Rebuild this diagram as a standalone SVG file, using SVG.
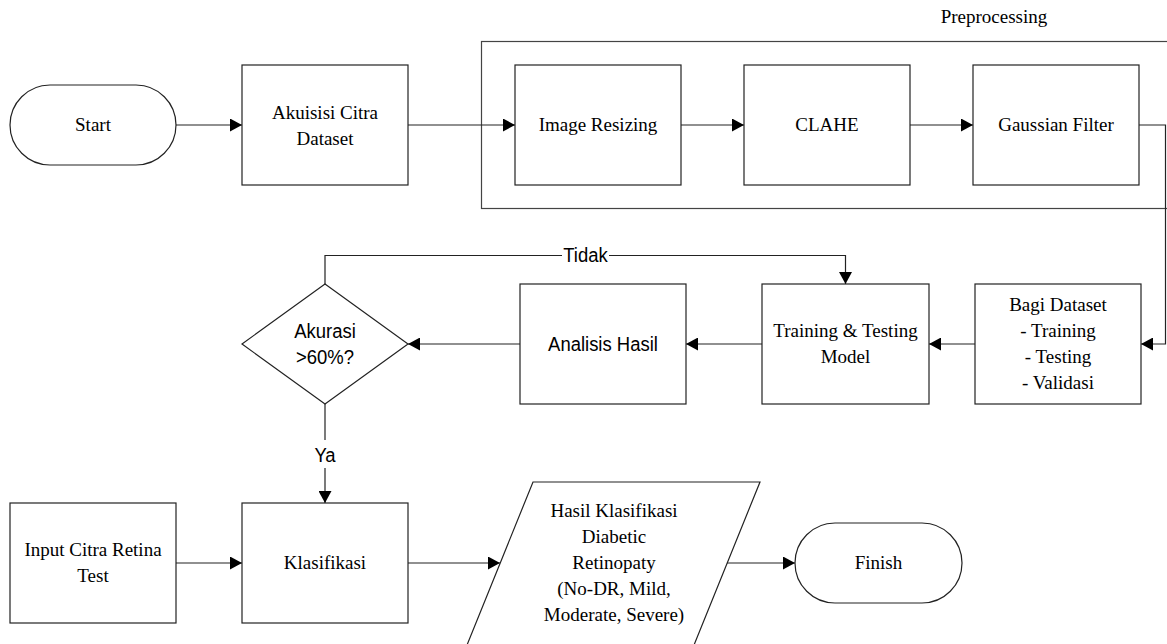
<svg xmlns="http://www.w3.org/2000/svg" width="1167" height="644" viewBox="0 0 1167 644">
  <style>
    .box { fill: #ffffff; stroke: #222222; stroke-width: 1.2; }
    .grp { fill: none; stroke: #444444; stroke-width: 1.2; }
    .con { fill: none; stroke: #222222; stroke-width: 1.2; }
    .s { font-family: "Liberation Serif", "Times New Roman", serif; font-size: 19px; fill: #000000; text-anchor: middle; }
    .a { font-family: "Liberation Sans", Arial, sans-serif; font-size: 21px; fill: #000000; text-anchor: middle; transform-box: fill-box; transform-origin: center; transform: scaleX(0.88); }
    .lbg { fill: #ffffff; stroke: none; }
  </style>
  <defs>
    <marker id="arr" viewBox="0 0 12 13" refX="12" refY="6.5" markerWidth="12" markerHeight="13" orient="auto" markerUnits="userSpaceOnUse">
      <path d="M0,0 L12,6.5 L0,13 z" fill="#000000"/>
    </marker>
  </defs>
  <rect width="1167" height="644" fill="#ffffff"/>

  <g id="preprocessing">
    <rect class="grp" x="481.5" y="41.5" width="700" height="167"/>
    <text class="s" x="994" y="23">Preprocessing</text>
  </g>

  <g id="connectors">
    <path class="con" d="M176,125 H242" marker-end="url(#arr)"/>
    <path class="con" d="M408,125 H515" marker-end="url(#arr)"/>
    <path class="con" d="M681,125 H744" marker-end="url(#arr)"/>
    <path class="con" d="M910,125 H973" marker-end="url(#arr)"/>
    <path class="con" d="M1139,125 H1165.5 V344 H1141" marker-end="url(#arr)"/>
    <path class="con" d="M975,344 H929" marker-end="url(#arr)"/>
    <path class="con" d="M762,344 H686" marker-end="url(#arr)"/>
    <path class="con" d="M520,344 H408" marker-end="url(#arr)"/>
    <path class="con" d="M325,284 V255.5 H845.5 V284" marker-end="url(#arr)"/>
    <path class="con" d="M325,404 V503" marker-end="url(#arr)"/>
    <path class="con" d="M176,563 H242" marker-end="url(#arr)"/>
    <path class="con" d="M408,563 H500" marker-end="url(#arr)"/>
    <path class="con" d="M727,563 H795" marker-end="url(#arr)"/>
    <rect class="lbg" x="562" y="246" width="47" height="19"/>
    <text class="a" x="585.5" y="262.5">Tidak</text>
    <rect class="lbg" x="312" y="440" width="26" height="28"/>
    <text class="a" x="325" y="462.5">Ya</text>
  </g>

  <g id="start">
    <rect class="box" x="10" y="85" width="166" height="80" rx="40" ry="40"/>
    <text class="s" x="93" y="131">Start</text>
  </g>

  <g id="akuisisi">
    <rect class="box" x="242" y="65" width="166" height="120"/>
    <text class="s" x="325" y="119">Akuisisi Citra</text>
    <text class="s" x="325" y="145">Dataset</text>
  </g>

  <g id="image-resizing">
    <rect class="box" x="515" y="65" width="166" height="120"/>
    <text class="s" x="598" y="131">Image Resizing</text>
  </g>

  <g id="clahe">
    <rect class="box" x="744" y="65" width="166" height="120"/>
    <text class="s" x="827" y="131">CLAHE</text>
  </g>

  <g id="gaussian">
    <rect class="box" x="973" y="65" width="166" height="120"/>
    <text class="s" x="1056" y="131">Gaussian Filter</text>
  </g>

  <g id="bagi-dataset">
    <rect class="box" x="975" y="284" width="166" height="120"/>
    <text class="s" x="1058" y="311">Bagi Dataset</text>
    <text class="s" x="1058" y="337">- Training</text>
    <text class="s" x="1058" y="363">- Testing</text>
    <text class="s" x="1058" y="389">- Validasi</text>
  </g>

  <g id="training">
    <rect class="box" x="762" y="284" width="167" height="120"/>
    <text class="s" x="845.5" y="337">Training &amp; Testing</text>
    <text class="s" x="845.5" y="363">Model</text>
  </g>

  <g id="analisis">
    <rect class="box" x="520" y="284" width="166" height="120"/>
    <text class="a" x="603" y="351.5">Analisis Hasil</text>
  </g>

  <g id="akurasi">
    <polygon class="box" points="325,284 408,344 325,404 242,344"/>
    <text class="a" x="325" y="338.5">Akurasi</text>
    <text class="a" x="325" y="364.5">&gt;60%?</text>
  </g>

  <g id="input">
    <rect class="box" x="10" y="503" width="166" height="120"/>
    <text class="s" x="93" y="556">Input Citra Retina</text>
    <text class="s" x="93" y="582">Test</text>
  </g>

  <g id="klasifikasi">
    <rect class="box" x="242" y="503" width="166" height="120"/>
    <text class="s" x="325" y="569">Klasifikasi</text>
  </g>

  <g id="hasil">
    <polygon class="box" points="533,482 760,482 692,650 465,650"/>
    <text class="s" x="614" y="517">Hasil Klasifikasi</text>
    <text class="s" x="614" y="543">Diabetic</text>
    <text class="s" x="614" y="569">Retinopaty</text>
    <text class="s" x="614" y="595">(No-DR, Mild,</text>
    <text class="s" x="614" y="621">Moderate, Severe)</text>
  </g>

  <g id="finish">
    <rect class="box" x="795" y="523" width="167" height="80" rx="40" ry="40"/>
    <text class="s" x="878.5" y="569">Finish</text>
  </g>
</svg>
